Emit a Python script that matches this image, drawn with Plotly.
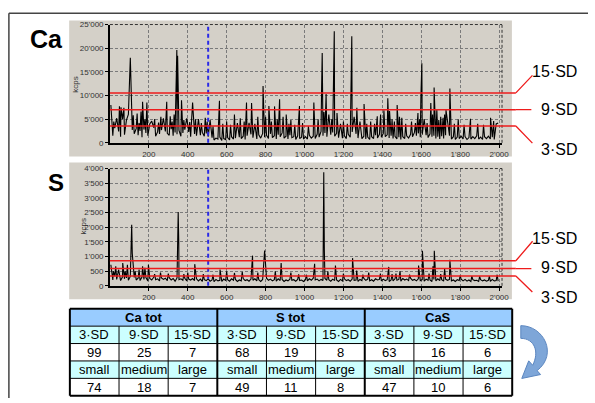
import plotly.graph_objects as go

W, H = 595, 403
FONT = "Arial, 'Liberation Sans', sans-serif"

# ---------------- data ----------------
sample_step = 10  # baseline sampled every 10 acquisitions, starting at 5

ca_baseline = [
    2600, 1500, 3100, 1800, 2400, 1300, 2900, 1700, 3300, 2000,
    1400, 2700, 1900, 3000, 1600, 2500, 1200, 2800, 2100, 1500,
    2600, 1800, 3200, 1400, 2300, 1900, 2700, 1300, 2400, 2000,
    1600, 2900, 1500, 2200, 1800, 2600, 1400, 2100, 2800, 1700,
    2300, 1300, 2500, 1900, 1500, 2700, 1600, 2200, 1400, 2000,
    1300, 700, 1100, 600, 1000, 800, 1200, 500, 900, 700,
    1100, 600, 1300, 800, 1000, 500, 1200, 900, 1400, 700,
    1500, 900, 1800, 1100, 1400, 800, 1700, 1000, 2000, 1200,
    1600, 900, 1900, 1100, 1500, 800, 1700, 1300, 2100, 1000,
    1400, 800, 1600, 1100, 1300, 700, 1500, 900, 1200, 800,
    1300, 800, 1600, 1000, 1400, 900, 1800, 1200, 2400, 1500,
    2100, 1300, 2600, 1700, 2200, 1400, 2000, 1100, 1700, 1000,
    1500, 900, 1800, 1200, 2300, 1400, 1900, 1000, 1600, 900,
    1400, 800, 1200, 700, 1300, 900, 1600, 1000, 1800, 1200,
    2000, 1300, 1700, 1000, 1500, 900, 1400, 800, 1200, 700,
    1300, 900, 1500, 1000, 1800, 1300, 2200, 1500, 2000, 1200,
    1700, 1000, 1600, 1100, 1900, 1300, 1500, 900, 1300, 800,
    1400, 900, 1600, 1000, 1500, 800, 1300, 700, 1200, 900,
    1400, 800, 1300, 700, 1100, 800, 1300, 900, 1500, 800,
    1200, 700, 1300, 900, 1400, 800, 1200, 700, 1100, 800,
]

s_baseline = [
    300, 200, 330, 220, 280, 180, 310, 240, 270, 190,
    320, 230, 290, 200, 260, 180, 300, 220, 280, 170,
    250, 200, 290, 210, 240, 170, 270, 220, 260, 180,
    280, 200, 250, 160, 270, 210, 240, 190, 260, 170,
    230, 200, 250, 180, 240,
    170, 230, 150, 210, 180, 240, 160, 200, 140, 220,
    170, 190, 150, 230, 180, 210, 160, 240, 190, 220,
    150, 200, 170, 250, 180, 210, 160, 230, 190, 240,
    170, 210, 150, 220, 180, 260, 190, 230, 170, 210,
    160, 240, 180, 220, 150, 200, 170, 230, 190, 210,
    160, 220, 180, 200, 150,
    210, 170, 240, 190, 260, 200, 230, 170, 220, 180,
    250, 190, 210, 160, 230, 180, 200, 150, 220, 170,
    240, 180, 210, 160, 230, 190, 200, 150, 220, 180,
    250, 190, 230, 170, 210, 160, 240, 200, 220, 170,
    230, 180, 210, 150, 200, 170, 240, 190, 220, 160,
    250, 200, 230, 180, 260, 190, 220, 170, 240, 180,
    210, 160, 230, 190, 200, 150, 220, 170, 240, 180,
    210, 160, 230, 190, 220, 170, 200, 150, 210, 180,
    230, 170, 220, 160, 200, 150, 210, 180, 190, 150,
    210, 170, 200, 160, 190, 150, 220, 170, 180, 160,
]

ca_peak_pos = [
    5, 20, 35, 49, 57, 65, 72, 85, 95, 105, 120, 140, 150, 160, 168, 180, 190,
    205, 215, 230, 250, 262, 275, 292, 310, 320, 330, 344, 348, 368, 380, 395,
    410, 425, 440, 455, 470, 490, 500, 515, 530, 563, 580, 600, 620, 640, 655,
    670, 690, 702, 715, 728, 745, 760, 787, 800, 817, 830, 846, 860, 872, 890,
    906, 920, 930, 950, 974, 990, 1020, 1048, 1070, 1088, 1091, 1100, 1111,
    1125, 1140, 1150, 1153, 1167, 1185, 1200, 1220, 1240, 1243, 1255, 1269,
    1285, 1306, 1320, 1340, 1360, 1374, 1391, 1408, 1428, 1437, 1450, 1462,
    1476, 1488, 1500, 1520, 1550, 1570, 1583, 1592, 1598, 1603, 1615, 1630,
    1649, 1658, 1666, 1680, 1690, 1700, 1712, 1720, 1727, 1735, 1747, 1770,
    1790, 1820, 1853, 1890, 1920, 1956, 1972, 1985, 1995,
]
ca_peak_val = [
    8000, 4500, 5200, 7700, 7500, 5000, 7400, 4800, 6000, 18000, 5800, 6200, 4200, 6600, 8700, 5000, 8500,
    4000, 4600, 5000, 4300, 5500, 5200, 8700, 5600, 4500, 6000, 19600, 18400, 9000, 4800, 5200,
    4400, 8500, 5000, 5000, 4200, 5300, 4500, 4800, 3500, 8900, 4000, 4500, 3800, 6000, 4200,
    5200, 4500, 8500, 4200, 8400, 4000, 5500, 12000, 5500, 7800, 4500, 7700, 5000, 9200, 5500,
    6000, 4000, 4800, 3800, 7800, 4200, 3500, 8500, 5000, 11800, 19000, 6500, 10300,
    6000, 5000, 12500, 23600, 6300, 4000, 4500, 4000, 14200, 22500, 5500, 7400,
    4500, 8200, 4000, 4500, 4000, 5600, 6000, 6900, 9400, 6700, 5000, 4500,
    8000, 5500, 5300, 4000, 4500, 4200, 6300, 5000, 9500, 16800, 5000, 4200,
    8400, 6000, 11700, 7000, 4800, 5500, 5300, 6000, 7000, 4500, 11500, 4000,
    5000, 3800, 5100, 4000, 3800, 5300, 4600, 4000, 4200,
]

s_peak_pos = [
    5, 18, 30, 45, 66, 78, 90, 112, 115, 130, 150, 168, 180, 198, 230, 260,
    300, 351, 354, 380, 400, 436, 480, 530, 566, 600, 640, 680, 733, 760, 795,
    800, 850, 880, 930, 970, 1010, 1052, 1096, 1099, 1102, 1120, 1159, 1200,
    1247, 1268, 1300, 1330, 1390, 1433, 1450, 1470, 1491, 1540, 1586, 1606,
    1640, 1660, 1667, 1700, 1720, 1747, 1800, 1860, 1900, 1950, 1990,
]
s_peak_val = [
    720, 500, 670, 550, 780, 500, 720, 2080, 1110, 500, 560, 670, 620, 720, 400, 450,
    420, 2520, 1440, 400, 450, 740, 400, 380, 555, 500, 440, 480, 1030, 450, 1200,
    700, 500, 780, 450, 390, 380, 755, 2050, 3870, 1220, 500, 690, 420,
    945, 520, 380, 450, 420, 645, 400, 420, 500, 380, 690, 1200,
    420, 670, 1200, 400, 580, 890, 350, 330, 320, 330, 380,
]

sd_names = ["3·SD", "9·SD", "15·SD"]
ca_sd_levels = [3550, 7000, 10550]
s_sd_levels = [335, 590, 855]
marker_sample = 505

x_tick_vals = [200, 400, 600, 800, 1000, 1200, 1400, 1600, 1800, 2000]
ca_tick_vals = [0, 5000, 10000, 15000, 20000, 25000]
s_tick_vals = [0, 500, 1000, 1500, 2000, 2500, 3000, 3500, 4000]

table_groups = ["Ca tot", "S tot", "CaS"]
table_sd_counts = [[99, 25, 7], [68, 19, 8], [63, 16, 6]]
table_size_labels = ["small", "medium", "large"]
table_size_counts = [[74, 18, 7], [49, 11, 8], [47, 10, 6]]


# ---------------- helpers ----------------
def fmt(v):
    return f"{v:,}".replace(",", "'")


def px(x):
    return x / W


def py(y):
    return 1 - y / H


def series(baseline, pos, val):
    pts = {5 + i * sample_step: v for i, v in enumerate(baseline)}
    pts.update(zip(pos, val))
    xs = sorted(pts)
    return xs, [pts[x] for x in xs]


GRAY = "#D4D0C8"
RED = "#EE1C1C"
XL, XR = 111.2, 508.0
CA_TOP, CA_BOT = 21.0, 142.0
S_TOP, S_BOT = 168.3, 288.3

fig = go.Figure()
cx, cy = series(ca_baseline, ca_peak_pos, ca_peak_val)
sx, sy = series(s_baseline, s_peak_pos, s_peak_val)
fig.add_trace(go.Scatter(x=cx, y=cy, mode="lines", line=dict(color="#000", width=1.1),
                         xaxis="x", yaxis="y", hoverinfo="skip", showlegend=False))
fig.add_trace(go.Scatter(x=sx, y=sy, mode="lines", line=dict(color="#000", width=1.1),
                         xaxis="x2", yaxis="y2", hoverinfo="skip", showlegend=False))

tickfont = dict(family=FONT, size=8, color="#333")
xcommon = dict(domain=[px(XL), px(XR)], range=[0, 2015], tickvals=x_tick_vals,
               ticktext=[fmt(v) for v in x_tick_vals], showgrid=True, gridcolor="#7a7a7a",
               griddash="3px,2px", gridwidth=1, showline=True, linecolor="#000", linewidth=1.5,
               ticks="outside", ticklen=3, tickcolor="#000", tickfont=tickfont,
               zeroline=False, fixedrange=True)
ycommon = dict(showgrid=True, gridcolor="#7a7a7a", griddash="3px,2px", gridwidth=1,
               showline=True, linecolor="#000", linewidth=1.5, ticks="outside", ticklen=3,
               tickcolor="#000", tickfont=tickfont, zeroline=False, fixedrange=True)

fig.update_layout(
    width=W, height=H, margin=dict(l=0, r=0, t=0, b=0), autosize=False,
    paper_bgcolor="white", plot_bgcolor=GRAY, showlegend=False,
    font=dict(family=FONT, color="#000"),
    xaxis=dict(anchor="y", **xcommon),
    yaxis=dict(anchor="x", domain=[py(CA_BOT), py(CA_TOP)], range=[0, 25000],
               tickvals=ca_tick_vals, ticktext=[fmt(v) for v in ca_tick_vals], **ycommon),
    xaxis2=dict(anchor="y2", **xcommon),
    yaxis2=dict(anchor="x2", domain=[py(S_BOT), py(S_TOP)], range=[0, 4000],
                tickvals=s_tick_vals, ticktext=[fmt(v) for v in s_tick_vals], **ycommon),
)

shapes = []
annotations = []


def label(x, y, text, size, **kw):
    d = dict(xref="paper", yref="paper", x=px(x), y=py(y), text=text, showarrow=False,
             xanchor="center", yanchor="middle",
             font=dict(family=FONT, size=size, color=kw.pop("color", "#000")))
    d.update(kw)
    annotations.append(d)


# grey panels
for top, bot in [(17, 156), (162, 302)]:
    shapes.append(dict(type="rect", xref="paper", yref="paper", x0=px(70), x1=px(518),
                       y0=py(bot), y1=py(top), fillcolor=GRAY, line=dict(width=0), layer="below"))

# outer frame
shapes.append(dict(type="line", xref="paper", yref="paper", x0=px(9), x1=1, y0=py(9.5), y1=py(9.5),
                   line=dict(color="#444", width=1.5)))
shapes.append(dict(type="line", xref="paper", yref="paper", x0=px(9), x1=px(9), y0=0, y1=py(9.5),
                   line=dict(color="#444", width=1.5)))

# dashed top/right plot borders, marker line, threshold lines
panels = [("y", "x", CA_TOP, CA_BOT, ca_sd_levels,
           [(18, 18.6), (17, 0), (18, -19)], [148.5, 108, 69]),
          ("y2", "x2", S_TOP, S_BOT, s_sd_levels,
           [(18, 17.4), (17, 0), (18, -21)], [300.5, 270, 240])]
for yref, xref, top, bot, levels, offs, label_ys in panels:
    shapes.append(dict(type="line", xref="paper", yref="paper", x0=px(XL), x1=px(XR),
                       y0=py(top), y1=py(top), line=dict(color="#333", width=1, dash="3px,2px")))
    shapes.append(dict(type="line", xref="paper", yref="paper", x0=px(XR), x1=px(XR),
                       y0=py(bot), y1=py(top), line=dict(color="#333", width=1, dash="3px,2px")))
    shapes.append(dict(type="line", xref=xref, yref=f"{yref} domain", x0=marker_sample,
                       x1=marker_sample, y0=0, y1=1,
                       line=dict(color="#2a2ae8", width=2, dash="4px,3px")))
    for lvl, (ax, ay), name, ly in zip(levels, offs, sd_names, label_ys):
        shapes.append(dict(type="line", xref="paper", yref=yref, x0=px(XL), x1=px(522),
                           y0=lvl, y1=lvl, line=dict(color=RED, width=1.5)))
        annotations.append(dict(xref="paper", yref=yref, x=px(522), y=lvl, ax=ax, ay=ay,
                                text="", showarrow=True, arrowhead=0, arrowwidth=1.3,
                                arrowcolor=RED, standoff=0, startstandoff=0))
        label(586, ly, name, 16, xanchor="right")

# panel names and axis titles
label(28, 36, "<b>Ca</b>", 25, xanchor="left")
label(47, 183, "<b>S</b>", 24, xanchor="left")
for kx, ky in [(76.5, 83), (84.5, 228)]:
    label(kx, ky, "kcps", 8, textangle=-90, color="#333")

# ---------------- table ----------------
TL, TR, TT = 70.7, 518.3, 311.7
RH = 17.8
GW = (TR - TL) / 3
CW = GW / 3
row_fills = ["#99CCFF", "#CCFFFF", "#FFFFFF", "#CCFFFF", "#FFFFFF"]
for r, fill in enumerate(row_fills):
    shapes.append(dict(type="rect", xref="paper", yref="paper", x0=px(TL), x1=px(TR),
                       y0=py(TT + (r + 1) * RH), y1=py(TT + r * RH), fillcolor=fill,
                       line=dict(width=0)))
TB = TT + 5 * RH
for r in range(6):
    w = 2 if r in (0, 5) else 1
    shapes.append(dict(type="line", xref="paper", yref="paper", x0=px(TL), x1=px(TR),
                       y0=py(TT + r * RH), y1=py(TT + r * RH), line=dict(color="#000", width=w)))
for g in range(3):
    for k in (1, 2):
        xx = TL + g * GW + k * CW
        shapes.append(dict(type="line", xref="paper", yref="paper", x0=px(xx), x1=px(xx),
                           y0=py(TB), y1=py(TT + RH), line=dict(color="#000", width=1)))
for g in range(4):
    xx = TL + g * GW
    shapes.append(dict(type="line", xref="paper", yref="paper", x0=px(xx), x1=px(xx),
                       y0=py(TB), y1=py(TT), line=dict(color="#000", width=2)))

for g, name in enumerate(table_groups):
    label(TL + g * GW + GW / 2, TT + RH / 2, f"<b>{name}</b>", 13)
    rows = [sd_names, table_sd_counts[g], table_size_labels, table_size_counts[g]]
    for r, vals in enumerate(rows, start=1):
        for k, v in enumerate(vals):
            label(TL + g * GW + k * CW + CW / 2, TT + r * RH + RH / 2, str(v), 13)

# curved block arrow
pts_path = [("M", [(527, 329)]), ("C", [(550, 329), (565, 358), (543.5, 375)]),
            ("L", [(547, 379)]), ("L", [(528, 383)]), ("L", [(535, 365)]),
            ("L", [(539, 369.5)]), ("C", [(546, 356), (541, 342), (527, 342)])]
path = ""
for cmd, pp in pts_path:
    path += cmd + " " + " ".join(f"{px(a):.5f},{py(b):.5f}" for a, b in pp) + " "
path += "Z"
shapes.append(dict(type="path", xref="paper", yref="paper", path=path, fillcolor="#7EA6D8",
                   line=dict(color="#5B86C0", width=1)))

fig.update_layout(shapes=shapes, annotations=annotations)
fig.write_html("out.html", config={"displayModeBar": False},
               post_script="document.body.style.margin='0px';")
